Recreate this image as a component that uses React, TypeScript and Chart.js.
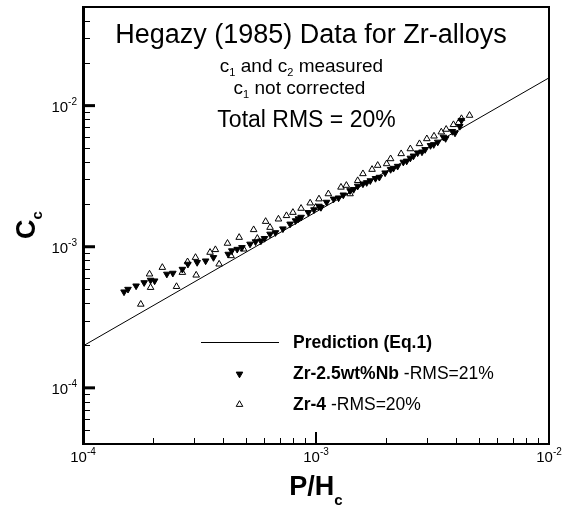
import React, { useEffect, useRef } from 'react';
import { Chart, registerables } from 'chart.js';

Chart.register(...registerables);

// ---------- data ----------
const predictionX = [1e-4, 1e-2];
const predictionY = [1.98e-4, 1.574e-2];

const nbX = [
  1.5e-4, 1.56e-4, 1.69e-4, 1.83e-4, 1.95e-4, 2.03e-4, 2.29e-4, 2.43e-4, 2.67e-4, 2.82e-4,
  3.09e-4, 3.36e-4, 3.63e-4, 4.2e-4, 4.35e-4, 4.59e-4, 4.81e-4, 5.21e-4, 5.5e-4, 5.8e-4,
  6.01e-4, 6.35e-4, 6.7e-4, 7.21e-4, 7.74e-4, 8.17e-4, 8.4e-4, 8.63e-4, 9.27e-4, 9.8e-4,
  1.03e-3, 1.05e-3, 1.11e-3, 1.19e-3, 1.25e-3, 1.31e-3, 1.4e-3, 1.45e-3, 1.51e-3, 1.59e-3,
  1.65e-3, 1.71e-3, 1.8e-3, 1.87e-3, 1.98e-3, 2.09e-3, 2.15e-3, 2.24e-3, 2.37e-3, 2.45e-3,
  2.54e-3, 2.62e-3, 2.73e-3, 2.85e-3, 2.94e-3, 3.1e-3, 3.2e-3, 3.33e-3, 3.52e-3, 3.6e-3,
  3.85e-3, 3.95e-3, 4.14e-3, 4.21e-3,
];
const nbY = [
  4.79e-4, 5.0e-4, 5.28e-4, 5.57e-4, 5.8e-4, 5.73e-4, 6.4e-4, 6.5e-4, 6.93e-4, 7.53e-4,
  7.74e-4, 7.94e-4, 8.39e-4, 8.86e-4, 9.37e-4, 9.6e-4, 9.88e-4, 1.045e-3, 1.086e-3, 1.1e-3,
  1.146e-3, 1.23e-3, 1.26e-3, 1.34e-3, 1.45e-3, 1.53e-3, 1.58e-3, 1.62e-3, 1.75e-3, 1.83e-3,
  1.94e-3, 1.9e-3, 2.07e-3, 2.18e-3, 2.22e-3, 2.33e-3, 2.5e-3, 2.55e-3, 2.69e-3, 2.79e-3,
  2.85e-3, 2.94e-3, 3.05e-3, 3.11e-3, 3.34e-3, 3.53e-3, 3.6e-3, 3.72e-3, 3.98e-3, 4.05e-3,
  4.25e-3, 4.4e-3, 4.63e-3, 4.7e-3, 4.89e-3, 5.22e-3, 5.3e-3, 5.52e-3, 5.99e-3, 5.85e-3,
  6.57e-3, 6.4e-3, 7.13e-3, 7.87e-3,
];

const zr4X = [
  1.77e-4, 1.95e-4, 1.93e-4, 2.19e-4, 2.52e-4, 2.67e-4, 2.81e-4, 3.04e-4, 3.06e-4, 3.51e-4,
  3.7e-4, 3.84e-4, 4.17e-4, 4.32e-4, 4.68e-4, 4.89e-4, 5.4e-4, 5.6e-4, 6.08e-4, 6.35e-4,
  6.9e-4, 7.47e-4, 7.96e-4, 8.63e-4, 9.44e-4, 9.96e-4, 1.03e-3, 1.13e-3, 1.28e-3, 1.35e-3,
  1.4e-3, 1.51e-3, 1.59e-3, 1.74e-3, 1.84e-3, 2.01e-3, 2.09e-3, 2.32e-3, 2.54e-3, 2.78e-3,
  2.99e-3, 3.21e-3, 3.45e-3, 3.62e-3, 3.89e-3, 4.09e-3, 4.21e-3, 4.56e-3,
];
const zr4Y = [
  3.91e-4, 5.14e-4, 6.4e-4, 7.13e-4, 5.22e-4, 6.57e-4, 7.82e-4, 8.39e-4, 6.29e-4, 9.12e-4,
  9.53e-4, 7.53e-4, 1.057e-3, 8.63e-4, 1.164e-3, 9.62e-4, 1.32e-3, 1.146e-3, 1.51e-3, 1.37e-3,
  1.57e-3, 1.66e-3, 1.75e-3, 1.87e-3, 2.04e-3, 1.9e-3, 2.18e-3, 2.37e-3, 2.64e-3, 2.72e-3,
  2.37e-3, 2.94e-3, 3.29e-3, 3.53e-3, 3.77e-3, 3.87e-3, 4.2e-3, 4.56e-3, 4.94e-3, 5.37e-3,
  5.82e-3, 6.08e-3, 6.5e-3, 6.79e-3, 7.33e-3, 7.57e-3, 8.09e-3, 8.53e-3,
];

const xRange = [1e-4, 1e-2];
const yRange = [4e-5, 5e-2];
const xMajorTicks = [1e-4, 1e-3, 1e-2];
const xTickExps = ['-4', '-3', '-2'];
const yMajorTicks = [1e-4, 1e-3, 1e-2];
const yTickExps = ['-4', '-3', '-2'];
const minorMultipliers = [2, 3, 4, 5, 6, 7, 8, 9];
const decades = [1e-5, 1e-4, 1e-3, 1e-2];

const titleText = 'Hegazy (1985) Data for Zr-alloys';
const totalText = 'Total RMS = 20%';
const predictionLabel = 'Prediction (Eq.1)';
const nbLabelBold = 'Zr-2.5wt%Nb';
const nbLabelRest = ' -RMS=21%';
const zr4LabelBold = 'Zr-4';
const zr4LabelRest = ' -RMS=20%';

const FF = '"Liberation Sans", Arial, Helvetica, sans-serif';

type Part = { text: string; font: string; dy?: number };

function drawRich(ctx: CanvasRenderingContext2D, parts: Part[], x: number, baseline: number, align: 'left' | 'center' | 'right') {
  let total = 0;
  const widths = parts.map((p) => {
    ctx.font = p.font;
    const w = ctx.measureText(p.text).width;
    total += w;
    return w;
  });
  let cx = align === 'left' ? x : align === 'center' ? x - total / 2 : x - total;
  ctx.textAlign = 'left';
  ctx.textBaseline = 'alphabetic';
  parts.forEach((p, i) => {
    ctx.font = p.font;
    ctx.fillText(p.text, cx, baseline + (p.dy || 0));
    cx += widths[i];
  });
}

function triangle(ctx: CanvasRenderingContext2D, x: number, y: number, r: number, down: boolean, filled: boolean) {
  let rad = down ? Math.PI : 0;
  ctx.beginPath();
  ctx.moveTo(x + Math.sin(rad) * r, y - Math.cos(rad) * r);
  rad += (2 * Math.PI) / 3;
  ctx.lineTo(x + Math.sin(rad) * r, y - Math.cos(rad) * r);
  rad += (2 * Math.PI) / 3;
  ctx.lineTo(x + Math.sin(rad) * r, y - Math.cos(rad) * r);
  ctx.closePath();
  ctx.lineWidth = 1;
  ctx.strokeStyle = '#000';
  if (filled) {
    ctx.fillStyle = '#000';
    ctx.fill();
  }
  ctx.stroke();
}

const decorPlugin = {
  id: 'decor',
  beforeDraw(chart: any) {
    const ctx = chart.ctx;
    ctx.save();
    ctx.fillStyle = '#fff';
    ctx.fillRect(0, 0, chart.width, chart.height);
    ctx.restore();
  },
  afterDraw(chart: any) {
    const ctx: CanvasRenderingContext2D = chart.ctx;
    const { left, right, top, bottom } = chart.chartArea;
    const xs = chart.scales.x;
    const ys = chart.scales.y;
    ctx.save();
    ctx.strokeStyle = '#000';
    ctx.fillStyle = '#000';

    // frame
    ctx.lineWidth = 2;
    ctx.beginPath();
    ctx.moveTo(left, top);
    ctx.lineTo(right, top);
    ctx.lineTo(right, bottom);
    ctx.lineTo(left, bottom);
    ctx.stroke();
    ctx.lineWidth = 3;
    ctx.beginPath();
    ctx.moveTo(left + 0.5, top - 1);
    ctx.lineTo(left + 0.5, bottom + 1);
    ctx.stroke();

    // y ticks
    decades.forEach((d) => {
      minorMultipliers.forEach((m) => {
        const v = d * m;
        if (v <= yRange[0] || v >= yRange[1]) return;
        const py = Math.round(ys.getPixelForValue(v)) + 0.5;
        ctx.lineWidth = 1;
        ctx.beginPath();
        ctx.moveTo(left, py);
        ctx.lineTo(left + 7, py);
        ctx.stroke();
      });
    });
    yMajorTicks.forEach((v, i) => {
      const py = ys.getPixelForValue(v);
      ctx.lineWidth = 3;
      ctx.beginPath();
      ctx.moveTo(left, py);
      ctx.lineTo(left + 12, py);
      ctx.stroke();
      drawRich(
        ctx,
        [
          { text: '10', font: `15px ${FF}` },
          { text: yTickExps[i], font: `10px ${FF}`, dy: -7 },
        ],
        left - 6,
        py + 6,
        'right'
      );
    });

    // x ticks
    decades.forEach((d) => {
      minorMultipliers.forEach((m) => {
        const v = d * m;
        if (v <= xRange[0] || v >= xRange[1]) return;
        const px = Math.round(xs.getPixelForValue(v)) + 0.5;
        ctx.lineWidth = 1;
        ctx.beginPath();
        ctx.moveTo(px, bottom);
        ctx.lineTo(px, bottom - 6);
        ctx.stroke();
      });
    });
    xMajorTicks.forEach((v, i) => {
      const px = xs.getPixelForValue(v);
      ctx.lineWidth = 2;
      ctx.beginPath();
      ctx.moveTo(px, bottom);
      ctx.lineTo(px, bottom - 12);
      ctx.stroke();
      drawRich(
        ctx,
        [
          { text: '10', font: `15px ${FF}` },
          { text: xTickExps[i], font: `10px ${FF}`, dy: -7 },
        ],
        px,
        bottom + 18,
        'center'
      );
    });

    // axis titles
    drawRich(
      ctx,
      [
        { text: 'P/H', font: `bold 27px ${FF}` },
        { text: 'c', font: `bold 15px ${FF}`, dy: 10 },
      ],
      316,
      495,
      'center'
    );
    ctx.save();
    ctx.translate(35, 225);
    ctx.rotate(-Math.PI / 2);
    drawRich(
      ctx,
      [
        { text: 'C', font: `bold 27px ${FF}` },
        { text: 'c', font: `bold 15px ${FF}`, dy: 7 },
      ],
      0,
      0,
      'center'
    );
    ctx.restore();

    // annotation texts
    drawRich(ctx, [{ text: titleText, font: `27px ${FF}` }], 311, 43, 'center');
    drawRich(
      ctx,
      [
        { text: 'c', font: `19px ${FF}` },
        { text: '1', font: `11px ${FF}`, dy: 4 },
        { text: ' and c', font: `19px ${FF}` },
        { text: '2', font: `11px ${FF}`, dy: 4 },
        { text: ' measured', font: `19px ${FF}` },
      ],
      301.5,
      72,
      'center'
    );
    drawRich(
      ctx,
      [
        { text: 'c', font: `19px ${FF}` },
        { text: '1', font: `11px ${FF}`, dy: 4 },
        { text: ' not corrected', font: `19px ${FF}` },
      ],
      299.5,
      94,
      'center'
    );
    drawRich(ctx, [{ text: totalText, font: `23px ${FF}` }], 306.5, 127, 'center');

    // legend
    ctx.lineWidth = 1;
    ctx.beginPath();
    ctx.moveTo(201, 342.5);
    ctx.lineTo(279, 342.5);
    ctx.stroke();
    triangle(ctx, 239.5, 374, 3.8, true, true);
    triangle(ctx, 239.5, 404.5, 3.8, false, false);
    ctx.fillStyle = '#000';
    drawRich(ctx, [{ text: predictionLabel, font: `bold 17.5px ${FF}` }], 293, 348, 'left');
    drawRich(
      ctx,
      [
        { text: nbLabelBold, font: `bold 17.5px ${FF}` },
        { text: nbLabelRest, font: `17.5px ${FF}` },
      ],
      293,
      379,
      'left'
    );
    drawRich(
      ctx,
      [
        { text: zr4LabelBold, font: `bold 17.5px ${FF}` },
        { text: zr4LabelRest, font: `17.5px ${FF}` },
      ],
      293,
      410,
      'left'
    );
    ctx.restore();
  },
};

export default function App() {
  const canvasRef = useRef<HTMLCanvasElement | null>(null);

  useEffect(() => {
    const canvas = canvasRef.current;
    if (!canvas) return;
    const chart = new Chart(canvas, {
      type: 'scatter',
      data: {
        datasets: [
          {
            type: 'line',
            label: predictionLabel,
            data: predictionX.map((x, i) => ({ x, y: predictionY[i] })),
            borderColor: '#000',
            borderWidth: 1,
            pointRadius: 0,
            fill: false,
          } as any,
          {
            label: nbLabelBold,
            data: nbX.map((x, i) => ({ x, y: nbY[i] })),
            pointStyle: 'triangle',
            pointRotation: 180,
            pointRadius: 3.8,
            backgroundColor: '#000',
            borderColor: '#000',
            borderWidth: 1,
          },
          {
            label: zr4LabelBold,
            data: zr4X.map((x, i) => ({ x, y: zr4Y[i] })),
            pointStyle: 'triangle',
            pointRadius: 3.8,
            backgroundColor: 'rgba(0,0,0,0)',
            borderColor: '#000',
            borderWidth: 1,
          },
        ],
      },
      options: {
        responsive: false,
        animation: false,
        devicePixelRatio: 1,
        events: [],
        layout: { padding: { left: 83, right: 21, top: 7, bottom: 63 } },
        plugins: { legend: { display: false }, tooltip: { enabled: false }, title: { display: false } },
        scales: {
          x: { type: 'logarithmic', min: xRange[0], max: xRange[1], display: false },
          y: { type: 'logarithmic', min: yRange[0], max: yRange[1], display: false },
        },
      },
      plugins: [decorPlugin],
    });
    return () => chart.destroy();
  }, []);

  return (
    <div style={{ position: 'fixed', left: 0, top: 0, width: 570, height: 507, background: '#fff' }}>
      <canvas ref={canvasRef} width={570} height={507} style={{ width: 570, height: 507, display: 'block' }} />
    </div>
  );
}
